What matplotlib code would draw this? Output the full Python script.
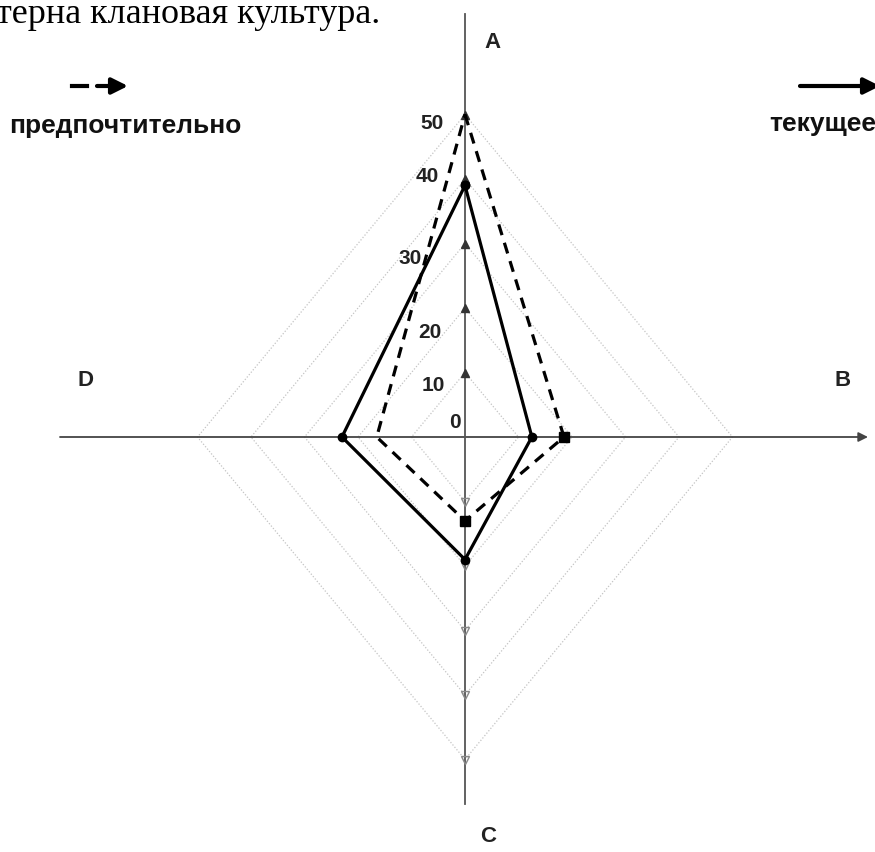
import matplotlib
matplotlib.use('Agg')
import matplotlib.pyplot as plt
import numpy as np

# quadrant labels and values
quadrants = ['A', 'B', 'C', 'D']
current = [39, 12.5, 19, 23]        # текущее (solid)
preferred = [50, 18.5, 13, 16.5]    # предпочтительно (dashed)
rings = [10, 20, 30, 40, 50]
tick_labels = ['0', '10', '20', '30', '40', '50']

W, H = 875, 853
cx, cy = 465, 438        # pixel position of the origin
sx, sy = 5.35, 6.45      # pixels per unit, horizontal / vertical


def to_xy(vals):
    # A up, B right, C down, D left
    a, b, c, d = vals
    xs = [0, b, 0, -d, 0]
    ys = [a, 0, -c, 0, a]
    return xs, ys


def px(x, y):
    # pixel -> data, for layout only
    return (x - cx) / sx, (cy - y) / sy


fig = plt.figure(figsize=(W / 100, H / 100), dpi=100)
ax = fig.add_axes([0, 0, 1, 1])
ax.set_xlim(-cx / sx, (W - cx) / sx)
ax.set_ylim(-(H - cy) / sy, cy / sy)
ax.axis('off')

# dotted diamonds
for r in rings:
    xs, ys = to_xy([r, r, r, r])
    ax.plot(xs, ys, color='#c4c4c4', lw=0.9, ls=(0, (1, 1.5)), zorder=1)

# axes
x0, y0 = px(60, 438)
x1, _ = px(868, 438)
ax.annotate('', xy=(x1, 0), xytext=(x0, 0),
            arrowprops=dict(arrowstyle='-|>', color='#444', lw=1.3,
                            mutation_scale=14, shrinkA=0, shrinkB=0), zorder=2)
_, ytop = px(465, 15)
_, ybot = px(465, 805)
ax.plot([0, 0], [ybot, ytop], color='#555', lw=1.3, zorder=2)

# ticks on vertical axis
ax.plot(np.zeros(len(rings)), rings, ls='none', marker='^', ms=6, color='#333', zorder=3)
ax.plot(np.zeros(len(rings)), [-r for r in rings], ls='none', marker='v', ms=6,
        mfc='none', mec='#888', zorder=3)

# tick labels
lab_pix = [(455, 423), (433, 386), (430, 333), (410, 258), (427, 177), (432, 124)]
for t, (lx, ly) in zip(tick_labels, lab_pix):
    ax.text(*px(lx, ly), t, ha='center', va='center', fontsize=15,
            fontweight='bold', family='Liberation Sans', color='#222')

# quadrant letters
letter_pix = [(492, 42), (843, 381), (488, 837), (85, 381)]
for q, (lx, ly) in zip(quadrants, letter_pix):
    ax.text(*px(lx, ly), q, ha='center', va='center', fontsize=16,
            fontweight='bold', family='Liberation Sans', color='#222')

# data polygons
xs, ys = to_xy(current)
ax.plot(xs, ys, color='black', lw=2.3, marker='o', ms=6, zorder=5)
xs, ys = to_xy(preferred)
ax.plot(xs, ys, color='black', lw=2.3, ls=(0, (3.5, 2.5)), zorder=4)
ax.plot(xs[1:3], ys[1:3], ls='none', marker='s', ms=7, color='black', zorder=4)

# legend
ax.plot([px(72, 0)[0], px(87, 0)[0]], [px(0, 87)[1]] * 2, color='black', lw=3)
ax.annotate('', xy=px(128, 87), xytext=px(97, 87), annotation_clip=False,
            arrowprops=dict(arrowstyle='-|>', color='black', lw=3,
                            mutation_scale=24, shrinkA=0, shrinkB=0))
ax.text(*px(9, 126), 'предпочтительно', ha='left', va='center', fontsize=19,
        fontweight='bold', family='Liberation Sans', color='#111')
ax.annotate('', xy=px(880, 87), xytext=px(800, 87), annotation_clip=False,
            arrowprops=dict(arrowstyle='-|>', color='black', lw=3,
                            mutation_scale=24, shrinkA=0, shrinkB=0))
ax.text(*px(769, 124), 'текущее', ha='left', va='center', fontsize=19,
        fontweight='bold', family='Liberation Sans', color='#111')

# cut-off document line above the chart
ax.text(*px(-4, 23), 'терна клановая культура.', ha='left', va='baseline',
        fontsize=26, family='Liberation Serif', color='black')

fig.savefig('out.png', dpi=100)
